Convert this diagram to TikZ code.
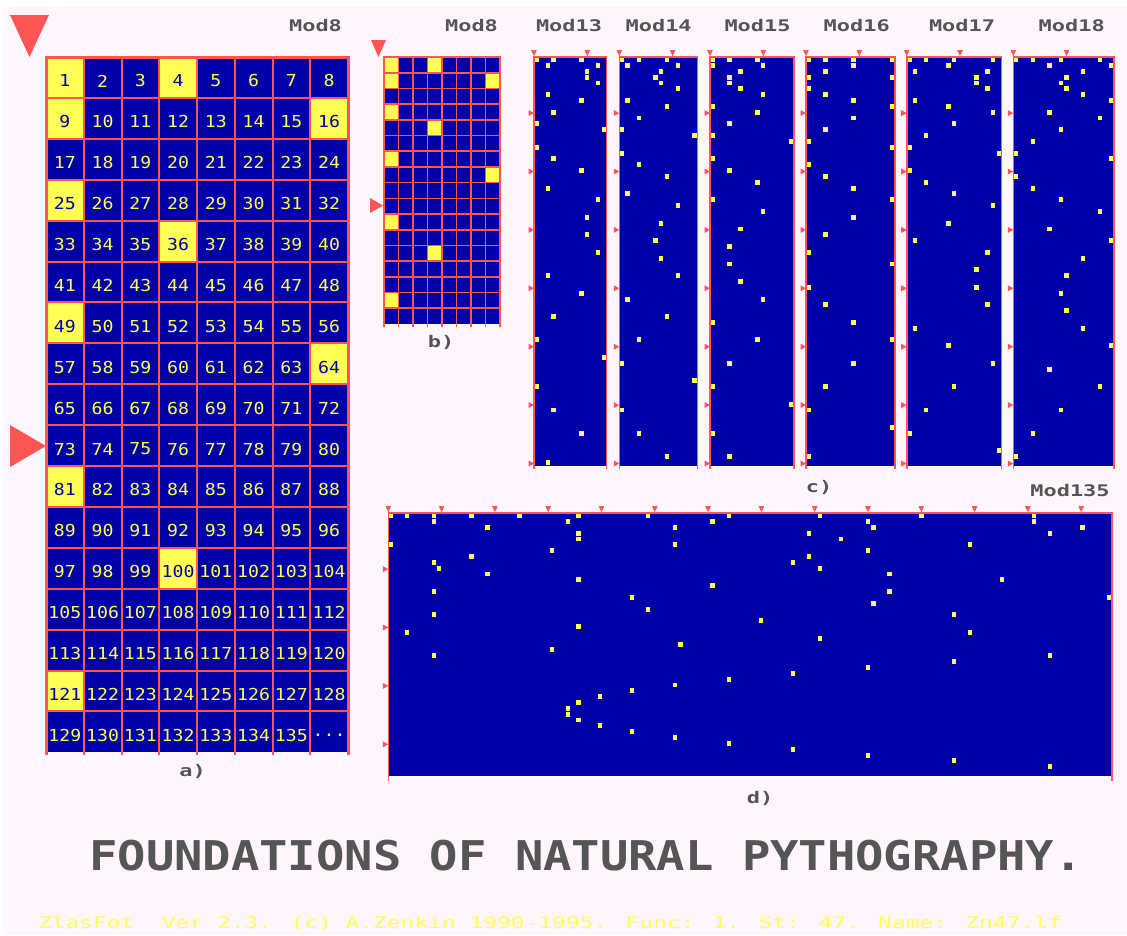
\documentclass[tikz,border=0pt]{standalone}
\usepackage{fontspec}
\usepackage{graphicx}
\newfontfamily\pix{DejaVu Sans Mono}
\definecolor{bgpink}{HTML}{FFF5FD}
\definecolor{egablue}{HTML}{0000A8}
\definecolor{egayel}{HTML}{FFFF55}
\definecolor{egared}{HTML}{FF5555}
\definecolor{egagray}{HTML}{555555}
\tikzset{
  modlabel/.style={font=\pix\bfseries\fontsize{16}{16}\selectfont, text=egagray, inner sep=0pt},
  numlabel/.style={font=\pix\fontsize{16.5}{16.5}\selectfont, inner sep=0pt},
  gridline/.style={draw=egared, line width=2pt},
  borderline/.style={draw=egared, line width=1.6pt},
  marker/.style={fill=egared},
  dotcell/.style={fill=egayel},
}
\begin{document}
\begin{tikzpicture}[x=1pt,y=-1pt]
\useasboundingbox (0,0) rectangle (1127,935);
\fill[white] (0,0) rectangle (1127,935);
\fill[bgpink] (3,7) rectangle (1127,935);

% ---------- panel a ----------
\fill[egablue] (46,57) rectangle ({46+8*37.75},{57+17*40.9});
\foreach \i in {0,...,134}{
  \pgfmathtruncatemacro\c{mod(\i,8)}
  \pgfmathtruncatemacro\r{div(\i,8)}
  \pgfmathtruncatemacro\m{\i+1}
  \pgfmathtruncatemacro\s{round(sqrt(\m))}
  \pgfmathtruncatemacro\q{\s*\s==\m}
  \ifnum\q=1
    \fill[dotcell] ({46+\c*37.75},{57+\r*40.9}) rectangle ++(37.75,40.9);
    \def\tc{egablue}
  \else
    \def\tc{egayel}
  \fi
  \node[numlabel, text=\tc] (na\m) at ({46+(\c+0.5)*37.75},{57+(\r+0.5)*40.9+3.5}) {\scalebox{1.1}[1]{\m}};
}
\node[numlabel, text=egayel] (nadots) at ({46+7.5*37.75},{57+16.5*40.9+3.5}) {\scalebox{1.1}[1]{...}};
\foreach \r in {1,...,16}{
  \draw[gridline] (46,{57+\r*40.9}) -- ({46+8*37.75},{57+\r*40.9});
}
\foreach \c in {1,...,7}{
  \draw[gridline] ({46+\c*37.75},57) -- ({46+\c*37.75},{57+17*40.9+3});
}
\draw[egared, line width=3pt] (46,{57+17*40.9+3}) -- (46,57) -- ({46+8*37.75},57) -- ({46+8*37.75},{57+17*40.9+3});
\fill[marker] (10,15) -- (49,15) -- (29.5,57) -- cycle;
\fill[marker] (10,425) -- (46,446) -- (10,467) -- cycle;
\node[modlabel] (la) at (315.5,26) {\scalebox{1.37}[1]{Mod8}};
\node[modlabel] (capa) at (192.5,771) {\scalebox{1.37}[1]{a)}};

% ---------- panel b ----------
\begin{scope}[shift={(384,57)}]
  \fill[egablue] (0,0) rectangle ({8*14.5},{17*15.7});
  \foreach \n in {1,...,11}{
    \pgfmathtruncatemacro\k{\n*\n-1}
    \pgfmathtruncatemacro\c{mod(\k,8)}
    \pgfmathtruncatemacro\r{div(\k,8)}
    \fill[dotcell] ({\c*14.5},{\r*15.7}) rectangle ++(14.5,15.7);
  }
  \foreach \r in {1,...,16}{
    \draw[draw=egared, line width=1.6pt] (0,{\r*15.7}) -- ({8*14.5},{\r*15.7});
  }
  \foreach \c in {1,...,7}{
    \draw[draw=egared, line width=1.6pt] ({\c*14.5},0) -- ({\c*14.5},{17*15.7+3});
  }
  \draw[borderline, line width=2pt] (0,{17*15.7+3}) -- (0,0) -- ({8*14.5},0) -- ({8*14.5},{17*15.7+3});
\end{scope}
\fill[marker] (371,40) -- (386,40) -- (378.5,57) -- cycle;
\fill[marker] (370,198) -- (383,205.5) -- (370,213) -- cycle;
\node[modlabel] (lb) at (471.5,26) {\scalebox{1.37}[1]{Mod8}};
\node[modlabel] (capb) at (441,342) {\scalebox{1.37}[1]{b)}};

% ---------- panels c ----------
\foreach \M/\xo/\lx in {13/534/569, 14/619.3/658.7, 15/710/757.5, 16/806/856.7, 17/906.7/962, 18/1013.3/1071.7}{
  \begin{scope}[shift={(\xo,56.7)}]
    \fill[egablue] (0,0) rectangle ({\M*5.58},{70*5.84});
    \foreach \n in {1,...,36}{
      \pgfmathtruncatemacro\k{\n*\n-1}
      \pgfmathtruncatemacro\c{mod(\k,\M)}
      \pgfmathtruncatemacro\r{div(\k,\M)}
      \ifnum\r<70
        \fill[dotcell] ({(\c+0.1)*5.58},{(\r+0.08)*5.84}) rectangle ({(\c+0.9)*5.58},{(\r+0.92)*5.84});
      \fi
    }
    \draw[borderline] (0,{70*5.84+3}) -- (0,0) -- ({\M*5.58},0) -- ({\M*5.58},{70*5.84+3});
    \foreach \j in {0,1}{
      \fill[marker] ({\j*53.3-2.8},-6.5) -- ({\j*53.3+2.8},-6.5) -- ({\j*53.3},-0.5) -- cycle;
    }
    \foreach \kk in {1,...,7}{
      \fill[marker] (-5.5,{\kk*58.4-5}) -- (0,{\kk*58.4-2}) -- (-5.5,{\kk*58.4+1}) -- cycle;
    }
  \end{scope}
  \node[modlabel] (lc\M) at (\lx,26) {\scalebox{1.37}[1]{Mod\M}};
}
\node[modlabel] (capc) at (819,487) {\scalebox{1.37}[1]{c)}};

% ---------- panel d ----------
\begin{scope}[shift={(388.3,512.7)}]
  \fill[egablue] (0,0) rectangle ({135*5.36},{45*5.84});
  \foreach \n in {1,...,77}{
    \pgfmathtruncatemacro\k{\n*\n-1}
    \pgfmathtruncatemacro\c{mod(\k,135)}
    \pgfmathtruncatemacro\r{div(\k,135)}
    \fill[dotcell] ({(\c+0.1)*5.36},{(\r+0.08)*5.84}) rectangle ({(\c+0.9)*5.36},{(\r+0.92)*5.84});
  }
  \draw[borderline] (0,{45*5.84+5}) -- (0,0) -- ({135*5.36},0) -- ({135*5.36},{45*5.84+5});
  \foreach \j in {0,...,13}{
    \fill[marker] ({\j*53.3-2.8},-6.5) -- ({\j*53.3+2.8},-6.5) -- ({\j*53.3},-0.5) -- cycle;
  }
  \foreach \kk in {1,...,4}{
    \fill[marker] (-5.5,{\kk*58.4-5}) -- (0,{\kk*58.4-2}) -- (-5.5,{\kk*58.4+1}) -- cycle;
  }
\end{scope}
\node[modlabel] (ld) at (1070,490.7) {\scalebox{1.37}[1]{Mod135}};
\node[modlabel] (capd) at (760,798) {\scalebox{1.37}[1]{d)}};

% ---------- title and footer ----------
\node[inner sep=0pt, text=egagray, font=\pix\bfseries\fontsize{41}{41}\selectfont] (title) at (586,856) {\scalebox{1.15}[1]{FOUNDATIONS OF NATURAL PYTHOGRAPHY.}};
\node[inner sep=0pt, text=egayel, font=\pix\fontsize{16}{16}\selectfont] (footer) at (550,923) {\scalebox{1.43}[1]{ZlasFot\ \ Ver 2.3. (c) A.Zenkin 1990-1995. Func: 1. St: 47. Name: Zn47.lf}};
\end{tikzpicture}
\end{document}
